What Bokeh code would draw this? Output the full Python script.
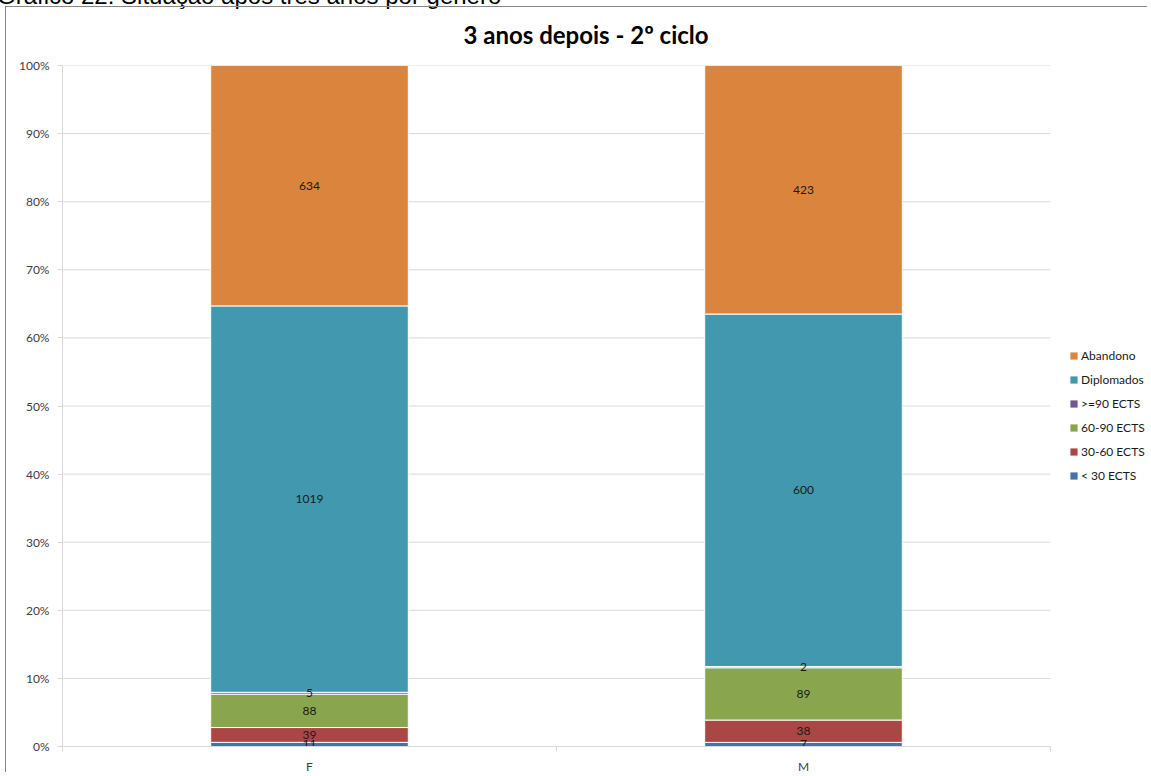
import numpy as np
from bokeh.plotting import figure
from bokeh.models import (ColumnDataSource, Range1d, FixedTicker,
                          NumeralTickFormatter, Legend, LegendItem, Div)
from bokeh.core.properties import value
from bokeh.embed import file_html
from bokeh.resources import INLINE

# ---- data ----
categories = ["F", "M"]
series_names = ["< 30 ECTS", "30-60 ECTS", "60-90 ECTS", ">=90 ECTS", "Diplomados", "Abandono"]
lt30 = [11, 7]
e30_60 = [39, 38]
e60_90 = [88, 89]
ge90 = [5, 2]
diplomados = [1019, 600]
abandono = [634, 423]
colors = ["#4572A7", "#AA4643", "#89A54E", "#71588F", "#4198AF", "#DB843D"]
y_ticks = [0.0, 0.1, 0.2, 0.3, 0.4, 0.5, 0.6, 0.7, 0.8, 0.9, 1.0]
chart_title = "3 anos depois - 2º ciclo"
caption = "Gráfico 22: Situação após três anos por género"

counts = np.array([lt30, e30_60, e60_90, ge90, diplomados, abandono], dtype=float)
totals = counts.sum(axis=0)
pct = counts / totals
xpos = list(range(len(categories)))
keys = ["s%d" % i for i in range(len(series_names))]
data = {"x": xpos}
for k, row in zip(keys, pct):
    data[k] = list(row)
src = ColumnDataSource(data)

cum = np.cumsum(pct, axis=0)
mid = cum - pct / 2
lab = ColumnDataSource(dict(
    x=[i for _ in series_names for i in xpos],
    y=list(mid.flatten()),
    t=[str(int(v)) for v in counts.flatten()],
))

FONT = "Lato"
GRID = "#d9d9d9"
n = len(categories)
x_lo, x_hi = -0.5, n - 0.5
extra = 101.0 / 494.0  # room at the right for the legend

p = figure(x_range=Range1d(x_lo, x_hi + extra), y_range=Range1d(0, 1),
           width=1151, height=776, output_backend="svg", toolbar_location=None,
           min_border_left=62, min_border_right=0, min_border_top=65,
           min_border_bottom=28)
p.outline_line_color = None

# title
p.title.text = chart_title
p.title.align = "left"
p.title.offset = 401
p.title.standoff = 34
p.title.text_font = FONT
p.title.text_font_style = "bold"
p.title.text_font_size = "24px"
p.title.text_color = "#000000"

# gridlines limited to the category area
p.segment(x0=x_lo, x1=x_hi, y0=y_ticks, y1=y_ticks, line_color=GRID, line_width=1)

bars = p.vbar_stack(keys, x="x", width=0.4, color=colors, line_color="white",
                    line_width=1, source=src)

p.text(x="x", y="y", text="t", source=lab, text_align="center",
       text_baseline="middle", text_font=value(FONT), text_font_size="12px",
       text_color="#1a1a1a")

# axes
p.xgrid.grid_line_color = None
p.ygrid.grid_line_color = None

p.yaxis.ticker = FixedTicker(ticks=y_ticks)
p.yaxis.formatter = NumeralTickFormatter(format="0%")
p.yaxis.axis_line_color = GRID
p.yaxis.major_tick_line_color = GRID
p.yaxis.major_tick_out = 5
p.yaxis.major_tick_in = 0
p.yaxis.minor_tick_line_color = None
p.yaxis.major_label_standoff = 8
p.yaxis.major_label_text_font = FONT
p.yaxis.major_label_text_font_size = "12px"
p.yaxis.major_label_text_color = "#404040"

p.xaxis.ticker = FixedTicker(ticks=xpos, minor_ticks=[x_lo + i for i in range(n + 1)])
p.xaxis.major_label_overrides = {i: c for i, c in zip(xpos, categories)}
p.xaxis.bounds = (x_lo, x_hi)
p.xaxis.axis_line_color = GRID
p.xaxis.major_tick_line_color = None
p.xaxis.minor_tick_line_color = GRID
p.xaxis.minor_tick_out = 5
p.xaxis.minor_tick_in = 0
p.xaxis.major_label_standoff = 6
p.xaxis.major_label_text_font = FONT
p.xaxis.major_label_text_font_size = "12px"
p.xaxis.major_label_text_color = "#404040"

# legend: zero-height swatch renderers, in reversed order
items = []
for name, c in reversed(list(zip(series_names, colors))):
    sw = ColumnDataSource(dict(x=[xpos[0]], top=[0.0]))
    r = p.vbar(x="x", top="top", width=0.4, source=sw, fill_color=c,
               line_color=None)
    items.append(LegendItem(label=name, renderers=[r]))
legend = Legend(items=items, location=(1007, 263), padding=0, margin=0,
                border_line_color=None, background_fill_alpha=0,
                glyph_width=9, glyph_height=9, label_height=15, spacing=9,
                label_standoff=3, label_text_font=FONT,
                label_text_font_size="12px", label_text_color="#1a1a1a")
p.add_layout(legend, "center")

# caption above the chart (mostly cut off in the original) and chart-area border
cap = Div(text=caption,
          styles={"position": "absolute", "top": "-23px", "left": "-8px",
                  "font-family": "Liberation Sans, Arial, sans-serif",
                  "font-size": "24px", "line-height": "27px",
                  "white-space": "nowrap", "color": "#000"})
frame_box = Div(text="",
                styles={"position": "absolute", "top": "1px", "left": "0px",
                        "width": "1142px", "height": "766px",
                        "border-left": "1px solid #878787",
                        "border-top": "1px solid #878787",
                        "pointer-events": "none"})

open("out.html", "w").write(file_html([p, cap, frame_box], INLINE))
